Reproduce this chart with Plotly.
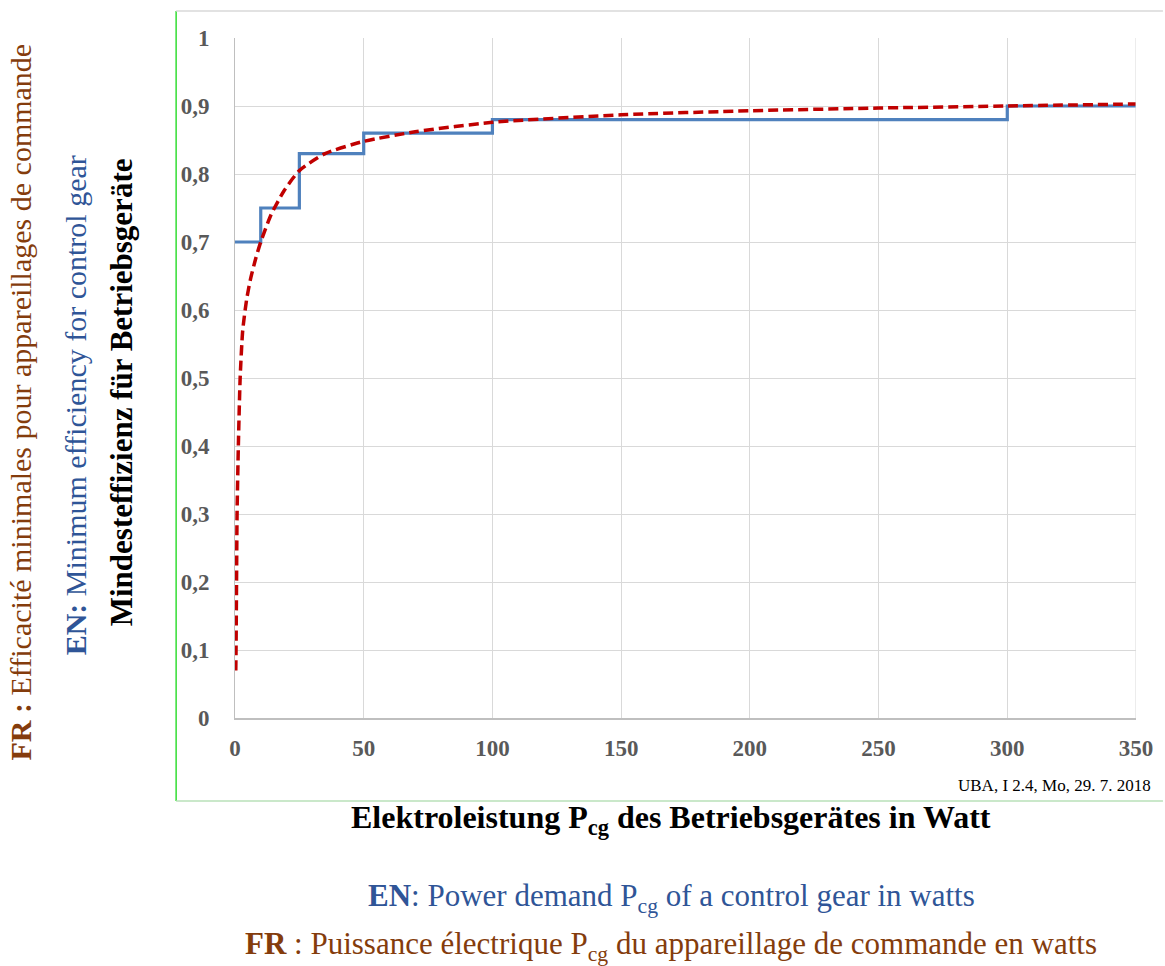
import plotly.graph_objects as go

# ---- data ----
step_x = [0, 10, 25, 50, 100, 300, 350]
step_y = [0.70, 0.75, 0.83, 0.86, 0.88, 0.90, 0.90]

curve_x = [0.3, 0.4, 0.6, 0.8, 1.3, 2.0, 3.0, 4.5, 6, 8, 10, 14, 19, 25, 35, 50, 70, 100, 150, 200, 250, 300, 350]
curve_y = [0.07, 0.10, 0.20, 0.30, 0.40, 0.50, 0.57, 0.615, 0.645, 0.675, 0.70, 0.74, 0.775, 0.805, 0.83, 0.848, 0.862, 0.876, 0.887, 0.893, 0.897, 0.900, 0.903]

x_ticks = [0, 50, 100, 150, 200, 250, 300, 350]
y_ticks = [0, 0.1, 0.2, 0.3, 0.4, 0.5, 0.6, 0.7, 0.8, 0.9, 1.0]
y_ticktext = ["0", "0,1", "0,2", "0,3", "0,4", "0,5", "0,6", "0,7", "0,8", "0,9", "1"]

W, H = 1165, 966
L, R, T, B = 235, 1138, 38, 718

def px(xp):
    return (xp - L) / (R - L)

def py(yp):
    return (B - yp) / (B - T)

SERIF = "Liberation Serif"
BLUE_T = "#2F5597"
BROWN_T = "#843C0C"

def serif(s):
    return "<span style='font-family:Liberation Serif'>" + s + "</span>"

fig = go.Figure()
fig.add_trace(go.Scatter(x=step_x, y=step_y, mode="lines", line=dict(color="#4F81BD", width=3.2, shape="hv"),
                         showlegend=False, hoverinfo="skip"))
fig.add_trace(go.Scatter(x=curve_x, y=curve_y, mode="lines",
                         line=dict(color="#C00000", width=3.5, dash="10px,5px", shape="spline", smoothing=0.6),
                         showlegend=False, hoverinfo="skip"))

fig.update_layout(
    width=W, height=H,
    margin=dict(l=L, r=W - R, t=T, b=H - B),
    paper_bgcolor="white", plot_bgcolor="white",
    font=dict(family=SERIF),
    xaxis=dict(range=[0, 350], tickvals=x_ticks, showgrid=True, gridcolor="#d9d9d9", gridwidth=1,
               zeroline=False, showline=True, linecolor="#bfbfbf", linewidth=2,
               tickfont=dict(family=SERIF, size=23, color="#595959", weight="bold"),
               ticks="", ticklabelstandoff=8, fixedrange=True),
    yaxis=dict(range=[0, 1], tickvals=y_ticks, ticktext=y_ticktext, showgrid=True, gridcolor="#d9d9d9",
               gridwidth=1, zeroline=False, showline=True, linecolor="#bfbfbf", linewidth=1,
               tickfont=dict(family=SERIF, size=23, color="#595959", weight="bold"),
               ticks="", ticklabelstandoff=20, fixedrange=True),
)

# right-edge gridline at 350
fig.add_shape(type="line", xref="x", yref="y", x0=350, x1=350, y0=0, y1=1,
              line=dict(color="#d9d9d9", width=1))

# chart area border
fig.add_shape(type="line", xref="paper", yref="paper", x0=px(176), x1=px(176), y0=py(11), y1=py(801),
              line=dict(color="#33dd33", width=1.5))
fig.add_shape(type="line", xref="paper", yref="paper", x0=px(176), x1=px(1165), y0=py(11), y1=py(11),
              line=dict(color="#d9d9d9", width=1.5))
fig.add_shape(type="line", xref="paper", yref="paper", x0=px(176), x1=px(1165), y0=py(801), y1=py(801),
              line=dict(color="#b8e0b8", width=1.5))

annots = [
    dict(x=px(1155), y=py(785), text="UBA, I 2.4, Mo, 29. 7. 2018", xanchor="right", yanchor="middle",
         font=dict(family=SERIF, size=17, color="black")),
    dict(x=px(672), y=py(820), text="<b>Elektroleistung P<sub>cg</sub> des Betriebsgerätes in Watt</b>",
         xanchor="center", yanchor="middle", font=dict(family=SERIF, size=32, color="black")),
    dict(x=px(672), y=py(898), text="<b>EN</b>: Power demand P<sub>cg</sub> of a control gear in watts",
         xanchor="center", yanchor="middle", font=dict(family=SERIF, size=31, color=BLUE_T)),
    dict(x=px(672), y=py(946), text="<b>FR</b> : Puissance électrique P<sub>cg</sub> du appareillage de commande en watts",
         xanchor="center", yanchor="middle", font=dict(family=SERIF, size=31, color=BROWN_T)),
    dict(x=px(122), y=py(392), text="<b>Mindesteffizienz für Betriebsgeräte</b>", textangle=-90,
         xanchor="center", yanchor="middle", font=dict(family=SERIF, size=31, color="black")),
    dict(x=px(75), y=py(405), text="<b>EN:</b>" + serif(" Minimum efficiency for control gear"), textangle=-90,
         xanchor="center", yanchor="middle", font=dict(family=SERIF, size=30, color=BLUE_T)),
    dict(x=px(20), y=py(402), text="<b>FR :</b>" + serif(" Efficacité minimales pour appareillages de commande"), textangle=-90,
         xanchor="center", yanchor="middle", font=dict(family=SERIF, size=30, color=BROWN_T)),
]
for a in annots:
    a.update(xref="paper", yref="paper", showarrow=False)
    fig.add_annotation(**a)

fig.write_html("out.html", config={"displayModeBar": False},
               post_script="document.body.style.margin='0px';document.body.style.overflow='hidden';")
